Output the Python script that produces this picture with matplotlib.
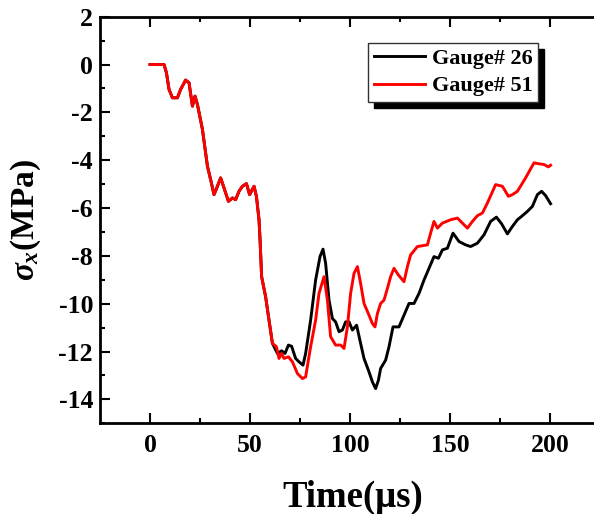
'''
Tensão sigma_x nos gauges 26 e 51 ao longo do tempo.
'''

import matplotlib
matplotlib.use('Agg')
import matplotlib.pyplot as plt

plt.rcParams['font.family'] = 'Liberation Serif'
plt.rcParams['font.weight'] = 'bold'
plt.rcParams['mathtext.fontset'] = 'custom'
plt.rcParams['mathtext.rm'] = 'Liberation Serif:bold'
plt.rcParams['mathtext.it'] = 'Liberation Serif:bold:italic'
plt.rcParams['mathtext.bf'] = 'Liberation Serif:bold'
plt.rcParams['axes.unicode_minus'] = False

                    # Dados #
tempo_inicio = [0, 7, 8.2, 9.5, 11.2, 13.7, 15.3, 17.8, 19.5, 21.2, 22.5, 23.7, 26.2, 28.7,
                30.3, 32, 33.7, 35.3, 37, 39.2, 41.2, 42.8, 44.5, 46.2, 48.2, 49.8, 52, 53.2,
                54.5, 55.0, 55.8, 57.8, 59.5, 61.2]
sigma_inicio = [0, 0, -0.34, -1.04, -1.39, -1.39, -1.04, -0.65, -0.76, -1.74, -1.32, -1.67,
                -2.71, -4.25, -4.81, -5.44, -5.09, -4.74, -5.16, -5.72, -5.58, -5.65, -5.30,
                -5.09, -4.98, -5.44, -5.09, -5.51, -6.49, -7.3, -8.87, -9.71, -10.69, -11.66]

tempo_g26 = tempo_inicio + [63.7, 65.8, 67.5, 69.2, 70.8, 72.8, 74.5, 76.5, 77.8, 80.3, 82.8,
                            85, 86.5, 87.8, 89.5, 91.2, 92.8, 94.5, 96.2, 97.8, 99.5, 101.2,
                            103.3, 105.3, 107, 109.5, 111.2, 112.8, 114.2, 115.3, 117.8, 119.5,
                            121.5, 124.5, 127, 129.5, 132, 134.5, 137, 139.5, 142, 144.2, 146.2,
                            148.7, 151.5, 154.5, 157.8, 160.3, 163.7, 167, 170.3, 173.2, 175.8,
                            178.7, 181.2, 183.7, 186.2, 188.7, 191.2, 193.7, 195.8, 197.8, 200.3]
sigma_g26 = sigma_inicio + [-12.08, -11.97, -12.08, -11.73, -11.78, -12.29, -12.43, -12.57,
                            -12.08, -10.69, -9.01, -8.03, -7.72, -8.31, -9.85, -10.62, -10.76,
                            -11.17, -11.1, -10.76, -10.76, -11.1, -10.9, -11.66, -12.29, -12.85,
                            -13.27, -13.55, -13.2, -12.71, -12.36, -11.80, -10.97, -10.97, -10.48,
                            -9.99, -9.99, -9.57, -9.01, -8.52, -8.03, -8.10, -7.75, -7.68, -7.05,
                            -7.40, -7.54, -7.61, -7.47, -7.12, -6.56, -6.38, -6.66, -7.08, -6.77,
                            -6.49, -6.32, -6.14, -5.93, -5.44, -5.30, -5.48, -5.82]

tempo_g51 = tempo_inicio + [63.2, 64.5, 65.8, 67, 69.2, 71.2, 73.7, 76.2, 77.8, 80.3, 82.8,
                            84.5, 87, 88.7, 90.3, 92.8, 95.3, 97, 98.7, 100.3, 102, 103.7, 105.3,
                            107, 109.5, 111.2, 112.5, 113.7, 115.3, 117, 118.7, 120.3, 122, 124.2,
                            127, 128.7, 130.3, 133.7, 138.7, 140.3, 142, 143.7, 146.2, 150.3,
                            153.7, 156.2, 158.7, 161.2, 163.7, 166.2, 168.7, 172.8, 176.2, 179.2,
                            181.2, 183.7, 187.8, 192, 194.5, 197, 199.2, 200.3]
sigma_g51 = sigma_inicio + [-11.8, -12.29, -12.08, -12.29, -12.22, -12.43, -12.92, -13.13,
                            -13.06, -11.8, -10.69, -9.57, -8.87, -9.85, -11.38, -11.73, -11.73,
                            -11.87, -10.97, -9.57, -8.73, -8.45, -9.15, -9.99, -10.48, -10.83,
                            -10.97, -10.41, -9.99, -9.85, -9.36, -8.87, -8.52, -8.80, -9.08,
                            -8.45, -7.96, -7.61, -7.54, -7.05, -6.56, -6.84, -6.63, -6.49, -6.42,
                            -6.63, -6.84, -6.56, -6.32, -6.21, -5.79, -5.02, -5.09, -5.51, -5.44,
                            -5.30, -4.74, -4.11, -4.15, -4.18, -4.28, -4.21]

rotulos = ['Gauge# 26', 'Gauge# 51']

                    # Figura #
# eixo vai até a borda da imagem; o lado direito fica recortado como no original
fig = plt.figure(figsize = (5.94, 5.14), dpi = 100)
ax = fig.add_axes([0.1684, 0.1765, 0.8316, 0.791])

ax.plot(tempo_g26, sigma_g26, color = 'black', lw = 2.1, label = rotulos[0])
ax.plot(tempo_g51, sigma_g51, color = 'red', lw = 2.1, label = rotulos[1])

ax.set_xlim(-25, 222)
ax.set_ylim(-15, 2)
ax.set_xticks([0, 50, 100, 150, 200])
ax.set_xticks([25, 75, 125, 175], minor = True)
ax.set_yticks(range(-14, 3, 2))
ax.set_yticks(range(-15, 2, 2), minor = True)

ax.tick_params(which = 'both', direction = 'in', top = True, right = False, width = 1.5,
               labelsize = 18.5)
ax.tick_params(which = 'major', length = 7)
ax.tick_params(which = 'minor', length = 3.5)
ax.tick_params(axis = 'x', which = 'major', pad = 8)
ax.tick_params(axis = 'y', which = 'major', pad = 5)
for s in ax.spines.values():
    s.set_linewidth(2)
ax.spines['right'].set_visible(False)

ax.set_xlabel('Time(μs)', fontsize = 26.5, fontweight = 'bold', labelpad = 16)
ax.xaxis.label.set_x(0.511)
ax.set_ylabel(r'$\sigma_x$(MPa)', fontsize = 24, fontweight = 'bold', labelpad = 11)

leg = ax.legend(loc = 'upper right', bbox_to_anchor = (0.8866, 0.935), fontsize = 16,
                fancybox = False, framealpha = 1, edgecolor = '#333333',
                shadow = {'ox': 4.3, 'oy': -4.3, 'facecolor': 'black',
                          'edgecolor': 'black', 'alpha': 1},
                handlelength = 2.3, handletextpad = 0.3, labelspacing = 0.3,
                borderpad = 0.25, borderaxespad = 0)
leg.get_frame().set_linewidth(1)

plt.savefig('out.png', dpi = 100)
